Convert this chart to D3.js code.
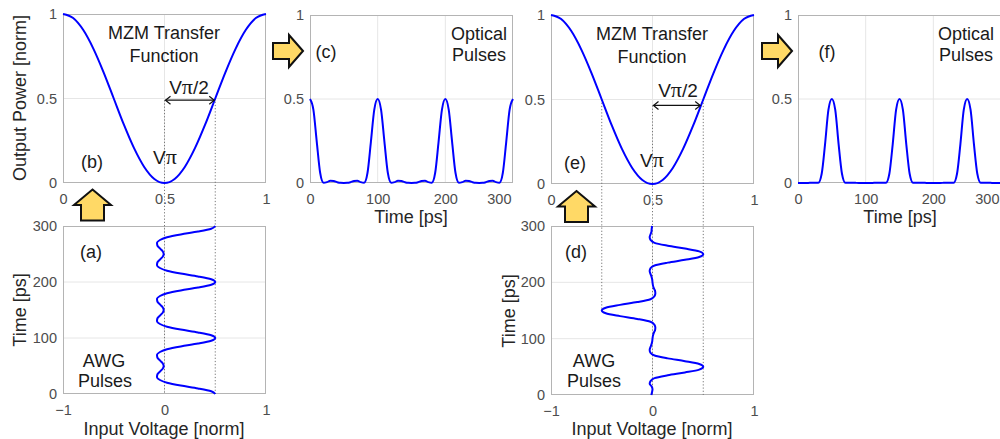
<!DOCTYPE html>
<html>
<head>
<meta charset="utf-8">
<script src="https://cdn.jsdelivr.net/npm/d3@7"></script>
<style>
  html, body { margin: 0; padding: 0; background: #ffffff; }
  svg { display: block; font-family: "Liberation Sans", Arial, Helvetica, sans-serif; }
</style>
</head>
<body>
<script>
// ---------------- DATA ----------------
// MZM transfer function (panels b, e)
const mzmVoltage = [0, 0.05, 0.1, 0.15, 0.2, 0.25, 0.3, 0.35, 0.4, 0.45, 0.5, 0.55, 0.6, 0.65, 0.7, 0.75, 0.8, 0.85, 0.9, 0.95, 1];
const mzmPower   = [1, 0.976, 0.905, 0.794, 0.655, 0.5, 0.345, 0.206, 0.095, 0.024, 0, 0.024, 0.095, 0.206, 0.345, 0.5, 0.655, 0.794, 0.905, 0.976, 1];

// time samples [ps]
const timePs = [0, 5, 10, 15, 20, 25, 30, 35, 40, 45, 50, 55, 60, 65, 70, 75, 80, 85, 90, 95,
  100, 105, 110, 115, 120, 125, 130, 135, 140, 145, 150, 155, 160, 165, 170, 175, 180, 185, 190, 195,
  200, 205, 210, 215, 220, 225, 230, 235, 240, 245, 250, 255, 260, 265, 270, 275, 280, 285, 290, 295, 300];

// (a) AWG pulses, input voltage [norm]
const awgA = [0.50, 0.46, 0.33, 0.16, 0.025, -0.045, -0.074, -0.07, -0.045, -0.018, -0.008, -0.018, -0.045, -0.07, -0.074, -0.045, 0.025, 0.16, 0.33, 0.46,
  0.50, 0.46, 0.33, 0.16, 0.025, -0.045, -0.074, -0.07, -0.045, -0.018, -0.008, -0.018, -0.045, -0.07, -0.074, -0.045, 0.025, 0.16, 0.33, 0.46,
  0.50, 0.46, 0.33, 0.16, 0.025, -0.045, -0.074, -0.07, -0.045, -0.018, -0.008, -0.018, -0.045, -0.07, -0.074, -0.045, 0.025, 0.16, 0.33, 0.46,
  0.50];

// (c) optical pulses, output power [norm]
const opticalC = [0.5, 0.437, 0.245, 0.061, 0.0015, 0.005, 0.0134, 0.012, 0.005, 0.0008, 0.0002, 0.0008, 0.005, 0.012, 0.0134, 0.005, 0.0015, 0.061, 0.245, 0.437,
  0.5, 0.437, 0.245, 0.061, 0.0015, 0.005, 0.0134, 0.012, 0.005, 0.0008, 0.0002, 0.0008, 0.005, 0.012, 0.0134, 0.005, 0.0015, 0.061, 0.245, 0.437,
  0.5, 0.437, 0.245, 0.061, 0.0015, 0.005, 0.0134, 0.012, 0.005, 0.0008, 0.0002, 0.0008, 0.005, 0.012, 0.0134, 0.005, 0.0015, 0.061, 0.245, 0.437,
  0.5];

// (d) AWG pulses with alternating polarity
const awgD = [-0.012, -0.005, 0.0, -0.008, -0.028, -0.018, 0.02, 0.15, 0.32, 0.46,
  0.50, 0.46, 0.32, 0.15, 0.02, -0.02, -0.028, -0.02, -0.01, -0.003,
  0.0, 0.004, 0.012, 0.025, 0.028, 0.018, -0.02, -0.15, -0.32, -0.46,
  -0.50, -0.46, -0.32, -0.15, -0.02, 0.018, 0.028, 0.025, 0.012, 0.004,
  0.0, -0.003, -0.01, -0.02, -0.028, -0.02, 0.02, 0.15, 0.32, 0.46,
  0.50, 0.46, 0.32, 0.15, 0.02, -0.018, -0.028, -0.02, -0.01, -0.008,
  -0.004];

// (f) optical pulses
const opticalF = [0.0004, 0.0001, 0.0, 0.0002, 0.0019, 0.0008, 0.001, 0.055, 0.232, 0.437,
  0.5, 0.437, 0.232, 0.055, 0.001, 0.001, 0.0019, 0.001, 0.0002, 0.0,
  0.0, 0.0, 0.0004, 0.0015, 0.0019, 0.0008, 0.001, 0.055, 0.232, 0.437,
  0.5, 0.437, 0.232, 0.055, 0.001, 0.0008, 0.0019, 0.0015, 0.0004, 0.0,
  0.0, 0.0, 0.0002, 0.001, 0.0019, 0.001, 0.001, 0.055, 0.232, 0.437,
  0.5, 0.437, 0.232, 0.055, 0.001, 0.0008, 0.0019, 0.001, 0.0002, 0.0002,
  0.0];

// tick values
const powerTicks = [0, 0.5, 1];
const mzmXTicks = [0, 0.5, 1];
const voltTicks = [-1, 0, 1];
const timeTicks = [0, 100, 200, 300];

// ---------------- DRAWING ----------------
const W = 1000, H = 439;
const svg = d3.select("body").append("svg").attr("width", W).attr("height", H);

const TICK_COLOR = "#4d4d4d", BOX_COLOR = "#b4b4b4", GRID_COLOR = "#e6e6e6", CURVE = "#0000ff";

function panel(o) {
  const x = d3.scaleLinear().domain(o.xDomain).range([o.left, o.left + o.width]);
  const y = d3.scaleLinear().domain(o.yDomain).range([o.top + o.height, o.top]);
  const g = svg.append("g");
  g.append("rect").attr("x", o.left).attr("y", o.top).attr("width", o.width).attr("height", o.height).attr("fill", "#fff");
  (o.xGrid || []).forEach(v => g.append("line").attr("x1", x(v)).attr("x2", x(v)).attr("y1", o.top).attr("y2", o.top + o.height)
      .attr("stroke", GRID_COLOR).attr("stroke-width", 1));
  (o.yGrid || []).forEach(v => g.append("line").attr("y1", y(v)).attr("y2", y(v)).attr("x1", o.left).attr("x2", o.left + o.width)
      .attr("stroke", GRID_COLOR).attr("stroke-width", 1));
  const xa = g.append("g").attr("transform", `translate(0,${o.top + o.height})`)
    .call(d3.axisBottom(x).tickValues(o.xTicks).tickSize(0).tickPadding(11).tickFormat(o.xFmt || d3.format("")));
  const ya = g.append("g").attr("transform", `translate(${o.left},0)`)
    .call(d3.axisLeft(y).tickValues(o.yTicks).tickSize(0).tickPadding(6).tickFormat(o.yFmt || d3.format("")));
  [xa, ya].forEach(a => {
    a.select(".domain").remove();
    a.selectAll("text").attr("fill", TICK_COLOR).style("font-size", "14.5px").style("font-family", "'Liberation Sans', Arial, sans-serif");
  });
  if (o.lastXEnd) {
    xa.selectAll(".tick").filter(d => d === o.xTicks[o.xTicks.length - 1]).select("text")
      .attr("text-anchor", "end").attr("x", -2);
  }
  svg.append("rect").attr("x", o.left + 0.5).attr("y", o.top + 0.5).attr("width", o.width - 1).attr("height", o.height - 1)
    .attr("fill", "none").attr("stroke", BOX_COLOR).attr("stroke-width", 1);
  return { x, y };
}

function text(str, x, y, opts = {}) {
  const t = svg.append("text").attr("x", x).attr("y", y)
    .attr("text-anchor", opts.anchor || "middle")
    .attr("fill", opts.fill || "#1a1a1a")
    .style("font-size", (opts.size || 18) + "px");
  if (opts.rotate) t.attr("transform", `rotate(-90,${x},${y})`).attr("dominant-baseline", "central");
  t.text(str);
  return t;
}
function vpi(x, y, suffix) {
  const t = svg.append("text").attr("x", x).attr("y", y).attr("text-anchor", "middle").attr("fill", "#1a1a1a").style("font-size", "19px");
  t.append("tspan").text("V");
  t.append("tspan").style("font-family", "'Liberation Serif', 'DejaVu Serif', serif").style("font-size", "22px").text("\u03C0");
  if (suffix) t.append("tspan").text(suffix);
}

const lineXY = (sx, sy, curve) => d3.line().x(d => sx(d[0])).y(d => sy(d[1])).curve(curve);
function dotted(x1, y1, x2, y2) {
  svg.append("line").attr("x1", x1).attr("y1", y1).attr("x2", x2).attr("y2", y2)
    .attr("stroke", "#777").attr("stroke-width", 1).attr("stroke-dasharray", "1.2,2");
}
function dblArrow(x1, x2, yv) {
  svg.append("line").attr("x1", x1 + 1).attr("x2", x2 - 1).attr("y1", yv).attr("y2", yv).attr("stroke", "#111").attr("stroke-width", 1.2);
  svg.append("path").attr("d", `M${x1 + 6},${yv - 4} L${x1 + 1},${yv} L${x1 + 6},${yv + 4}`).attr("fill", "none").attr("stroke", "#111").attr("stroke-width", 1.2);
  svg.append("path").attr("d", `M${x2 - 6},${yv - 4} L${x2 - 1},${yv} L${x2 - 6},${yv + 4}`).attr("fill", "none").attr("stroke", "#111").attr("stroke-width", 1.2);
}
const ARROW_FILL = "#ffd966";
function upArrow(cx, tipY) {
  const p = [[cx, tipY], [cx + 18.5, tipY + 15.5], [cx + 11.5, tipY + 15.5], [cx + 11.5, tipY + 31], [cx - 11.5, tipY + 31], [cx - 11.5, tipY + 15.5], [cx - 18.5, tipY + 15.5]];
  svg.append("polygon").attr("points", p.map(q => q.join(",")).join(" ")).attr("fill", ARROW_FILL).attr("stroke", "#111").attr("stroke-width", 2).attr("stroke-linejoin", "miter");
}
function rightArrow(tipX, cy) {
  const p = [[tipX, cy], [tipX - 14, cy - 16], [tipX - 14, cy - 8], [tipX - 30, cy - 8], [tipX - 30, cy + 8], [tipX - 14, cy + 8], [tipX - 14, cy + 16]];
  svg.append("polygon").attr("points", p.map(q => q.join(",")).join(" ")).attr("fill", ARROW_FILL).attr("stroke", "#111").attr("stroke-width", 2).attr("stroke-linejoin", "miter");
}

const mzmPts = mzmVoltage.map((v, i) => [v, mzmPower[i]]);

// ----- Panels -----
const pb = panel({ left: 63, top: 14, width: 203, height: 169, xDomain: [0, 1], yDomain: [0, 1],
  xTicks: mzmXTicks, yTicks: powerTicks, xGrid: [0.5], yGrid: [0.5] });
const pa = panel({ left: 63, top: 226, width: 203, height: 168, xDomain: [-1, 1], yDomain: [0, 300],
  xTicks: voltTicks, yTicks: timeTicks, xGrid: [0], yGrid: [100, 200] });
const pc = panel({ left: 310, top: 15, width: 203, height: 168, xDomain: [0, 300], yDomain: [0, 1],
  xTicks: timeTicks, yTicks: powerTicks, xGrid: [100, 200], yGrid: [0.5], lastXEnd: true });
const pe = panel({ left: 551, top: 15, width: 203, height: 169, xDomain: [0, 1], yDomain: [0, 1],
  xTicks: mzmXTicks, yTicks: powerTicks, xGrid: [0.5], yGrid: [0.5] });
const pd = panel({ left: 551, top: 226, width: 203, height: 169, xDomain: [-1, 1], yDomain: [0, 300],
  xTicks: voltTicks, yTicks: timeTicks, xGrid: [0], yGrid: [100, 200] });
const pf = panel({ left: 798, top: 15, width: 203, height: 168, xDomain: [0, 300], yDomain: [0, 1],
  xTicks: timeTicks, yTicks: powerTicks, xGrid: [100, 200], yGrid: [0.5], lastXEnd: true });

// dotted guide lines (b -> a)
dotted(pb.x(0.5), pb.y(0.49), pa.x(0), pa.y(0));
dotted(pb.x(0.75), pb.y(0.5), pa.x(0.5), pa.y(0));
// dotted guide lines (e -> d)
dotted(pe.x(0.25), pe.y(0.5), pd.x(-0.5), pd.y(150));
dotted(pe.x(0.5), pe.y(0.465), pd.x(0), pd.y(0));
dotted(pe.x(0.75), pe.y(0.5), pd.x(0.5), pd.y(0));

// curves
const strokeCurve = (sel) => sel.attr("fill", "none").attr("stroke", CURVE).attr("stroke-width", 2).attr("stroke-linejoin", "round");
strokeCurve(svg.append("path").attr("d", lineXY(pb.x, pb.y, d3.curveMonotoneX)(mzmPts)));
strokeCurve(svg.append("path").attr("d", lineXY(pe.x, pe.y, d3.curveMonotoneX)(mzmPts)));
strokeCurve(svg.append("path").attr("d", lineXY(pa.x, pa.y, d3.curveMonotoneY)(timePs.map((t, i) => [awgA[i], t]))));
strokeCurve(svg.append("path").attr("d", lineXY(pd.x, pd.y, d3.curveMonotoneY)(timePs.map((t, i) => [awgD[i], t]))));
strokeCurve(svg.append("path").attr("d", lineXY(pc.x, pc.y, d3.curveMonotoneX)(timePs.map((t, i) => [t, opticalC[i]]))));
strokeCurve(svg.append("path").attr("d", lineXY(pf.x, pf.y, d3.curveMonotoneX)(timePs.map((t, i) => [t, opticalF[i]]))));

// double arrows (Vpi/2)
dblArrow(pb.x(0.5), pb.x(0.75), pb.y(0.49));
dblArrow(pe.x(0.5), pe.x(0.74), pe.y(0.465));

// annotations
text("MZM Transfer", 164, 39);
text("Function", 164, 62);
text("(b)", 92, 168);
vpi(165, 164);
vpi(189, 94, "/2");

text("MZM Transfer", 652, 40);
text("Function", 652, 63);
text("(e)", 575, 169);
vpi(652, 167);
vpi(678, 97, "/2");

text("(c)", 326, 58);
text("Optical", 479, 40);
text("Pulses", 479, 61);

text("(f)", 827, 58);
text("Optical", 966, 40);
text("Pulses", 966, 61);

text("(a)", 91, 258);
text("AWG", 104, 367);
text("Pulses", 105, 387);

text("(d)", 576, 258);
text("AWG", 594, 367);
text("Pulses", 594, 387);

// axis titles
text("Output Power [norm]", 20, 98, { rotate: true, fill: "#262626" });
text("Time [ps]", 20, 310, { rotate: true, fill: "#262626" });
text("Time [ps]", 509, 311, { rotate: true, fill: "#262626" });
text("Input Voltage [norm]", 164, 435, { fill: "#262626" });
text("Input Voltage [norm]", 652, 435, { fill: "#262626" });
text("Time [ps]", 411, 223, { fill: "#262626" });
text("Time [ps]", 900, 223, { fill: "#262626" });

// block arrows
upArrow(92.5, 189.5);
upArrow(576.5, 191);
rightArrow(303, 51);
rightArrow(792, 51);
</script>
</body>
</html>
